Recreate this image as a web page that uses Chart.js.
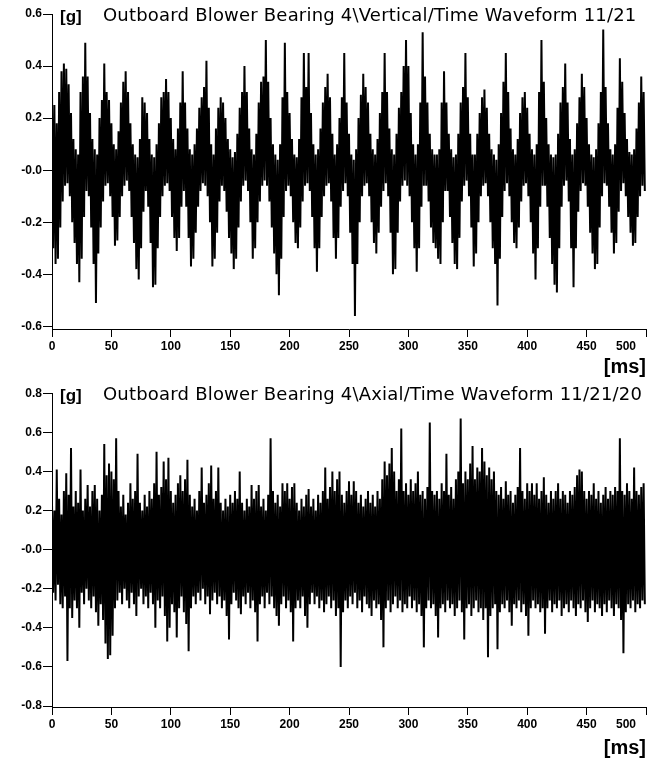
<!DOCTYPE html>
<html>
<head>
<meta charset="utf-8">
<script src="https://cdn.jsdelivr.net/npm/chart.js@4.4.0/dist/chart.umd.min.js"></script>
<style>
  body { margin: 0; background: #fff; }
  #wrap { position: relative; width: 659px; height: 761px; }
  canvas { position: absolute; left: 0; }
  #vert { top: 0; }
  #axial { top: 385px; }
</style>
</head>
<body>
<div id="wrap">
  <canvas id="vert" width="659" height="385"></canvas>
  <canvas id="axial" width="659" height="376"></canvas>
</div>
<script>
// time axis (ms)
const xTicks = [0, 50, 100, 150, 200, 250, 300, 350, 400, 450, 500];
const xLabels = ['0', '50', '100', '150', '200', '250', '300', '350', '400', '450', '500'];

const vertTitle = 'Outboard Blower Bearing 4\\Vertical/Time Waveform 11/21';
const vertYTicks = [-0.6, -0.4, -0.2, 0, 0.2, 0.4, 0.6];
const vertYLabels = ['-0.6', '-0.4', '-0.2', '-0.0', '0.2', '0.4', '0.6'];

const axialTitle = 'Outboard Blower Bearing 4\\Axial/Time Waveform 11/21/20';
const axialYTicks = [-0.8, -0.6, -0.4, -0.2, 0, 0.2, 0.4, 0.6, 0.8];
const axialYLabels = ['-0.8', '-0.6', '-0.4', '-0.2', '-0.0', '0.2', '0.4', '0.6', '0.8'];

// waveform read as max / min per 2 ms slot
const binMs = 2;

const vertHi = [
  0.32,0.25,0.18,0.30,0.38,0.41,0.39,0.33,0.22,0.12,
  0.08,0.06,0.30,0.36,0.49,0.36,0.22,0.12,0.08,0.06,
  0.20,0.27,0.41,0.30,0.27,0.18,0.10,0.08,0.15,0.26,
  0.34,0.38,0.30,0.18,0.10,0.06,0.05,0.12,0.28,0.26,
  0.22,0.12,0.06,0.05,0.10,0.18,0.28,0.30,0.35,0.30,
  0.20,0.12,0.08,0.16,0.26,0.38,0.26,0.16,0.08,0.06,
  0.10,0.16,0.24,0.28,0.32,0.42,0.24,0.10,0.06,0.16,
  0.24,0.28,0.26,0.20,0.12,0.08,0.05,0.07,0.14,0.24,
  0.30,0.40,0.30,0.16,0.08,0.06,0.14,0.26,0.34,0.36,
  0.50,0.34,0.20,0.10,0.06,0.04,0.10,0.28,0.49,0.30,
  0.22,0.12,0.06,0.05,0.12,0.28,0.45,0.32,0.45,0.22,
  0.10,0.06,0.08,0.16,0.26,0.32,0.37,0.28,0.14,0.06,
  0.10,0.20,0.28,0.45,0.26,0.14,0.06,0.04,0.08,0.20,
  0.29,0.37,0.32,0.26,0.14,0.08,0.06,0.12,0.22,0.30,
  0.45,0.30,0.16,0.08,0.06,0.14,0.24,0.30,0.40,0.50,
  0.40,0.22,0.10,0.06,0.10,0.26,0.53,0.36,0.26,0.14,
  0.08,0.06,0.06,0.08,0.26,0.38,0.26,0.14,0.08,0.05,
  0.06,0.14,0.26,0.32,0.45,0.28,0.14,0.06,0.06,0.14,
  0.22,0.28,0.31,0.24,0.14,0.08,0.06,0.04,0.10,0.22,
  0.34,0.45,0.30,0.16,0.08,0.06,0.12,0.22,0.28,0.30,
  0.24,0.14,0.08,0.06,0.10,0.30,0.50,0.34,0.20,0.10,
  0.06,0.05,0.06,0.14,0.26,0.32,0.41,0.26,0.12,0.06,
  0.08,0.18,0.28,0.37,0.32,0.20,0.10,0.06,0.05,0.08,
  0.18,0.30,0.54,0.32,0.18,0.08,0.06,0.10,0.24,0.43,
  0.34,0.22,0.12,0.07,0.06,0.08,0.16,0.26,0.36,0.30
];
const vertLo = [
  -0.30,-0.36,-0.34,-0.22,-0.12,-0.06,-0.05,-0.10,-0.20,-0.28,
  -0.36,-0.43,-0.34,-0.18,-0.08,-0.10,-0.22,-0.36,-0.51,-0.32,
  -0.22,-0.12,-0.06,-0.05,-0.10,-0.18,-0.29,-0.27,-0.18,-0.10,
  -0.06,-0.04,-0.08,-0.18,-0.28,-0.38,-0.42,-0.30,-0.16,-0.08,
  -0.14,-0.28,-0.45,-0.44,-0.30,-0.18,-0.10,-0.06,-0.05,-0.08,
  -0.18,-0.26,-0.31,-0.26,-0.14,-0.08,-0.14,-0.26,-0.37,-0.34,
  -0.24,-0.14,-0.08,-0.05,-0.06,-0.10,-0.20,-0.37,-0.34,-0.24,
  -0.12,-0.06,-0.08,-0.16,-0.26,-0.32,-0.38,-0.34,-0.22,-0.12,
  -0.06,-0.04,-0.08,-0.20,-0.34,-0.30,-0.20,-0.12,-0.06,-0.04,
  -0.06,-0.12,-0.22,-0.32,-0.40,-0.48,-0.34,-0.18,-0.08,-0.06,
  -0.10,-0.20,-0.28,-0.30,-0.22,-0.12,-0.06,-0.05,-0.08,-0.18,
  -0.30,-0.39,-0.30,-0.18,-0.10,-0.06,-0.05,-0.12,-0.26,-0.34,
  -0.26,-0.14,-0.08,-0.05,-0.10,-0.24,-0.36,-0.56,-0.36,-0.20,
  -0.10,-0.06,-0.05,-0.10,-0.20,-0.28,-0.32,-0.24,-0.14,-0.08,
  -0.05,-0.10,-0.24,-0.40,-0.38,-0.24,-0.12,-0.06,-0.04,-0.06,
  -0.10,-0.20,-0.30,-0.39,-0.30,-0.14,-0.06,-0.06,-0.12,-0.22,
  -0.28,-0.30,-0.34,-0.36,-0.20,-0.08,-0.08,-0.18,-0.28,-0.36,
  -0.38,-0.26,-0.12,-0.06,-0.04,-0.10,-0.22,-0.37,-0.32,-0.20,
  -0.10,-0.06,-0.05,-0.10,-0.20,-0.30,-0.36,-0.52,-0.34,-0.18,
  -0.08,-0.05,-0.10,-0.20,-0.28,-0.30,-0.22,-0.12,-0.06,-0.05,
  -0.10,-0.20,-0.32,-0.42,-0.30,-0.14,-0.06,-0.06,-0.14,-0.26,
  -0.36,-0.44,-0.47,-0.30,-0.14,-0.06,-0.04,-0.12,-0.30,-0.45,
  -0.30,-0.16,-0.08,-0.05,-0.06,-0.14,-0.24,-0.32,-0.38,-0.36,
  -0.22,-0.10,-0.05,-0.06,-0.14,-0.24,-0.32,-0.28,-0.16,-0.08,
  -0.05,-0.10,-0.18,-0.24,-0.29,-0.28,-0.18,-0.10,-0.06,-0.08
];

const axialHi = [
  0.24,0.20,0.41,0.26,0.18,0.30,0.39,0.28,0.52,0.22,
  0.30,0.24,0.41,0.20,0.26,0.33,0.22,0.30,0.33,0.26,
  0.20,0.28,0.54,0.38,0.44,0.40,0.36,0.57,0.30,0.22,
  0.28,0.18,0.24,0.34,0.26,0.30,0.49,0.24,0.20,0.28,
  0.22,0.30,0.26,0.34,0.50,0.28,0.32,0.45,0.36,0.47,
  0.30,0.24,0.28,0.34,0.38,0.30,0.36,0.46,0.28,0.22,
  0.26,0.20,0.30,0.42,0.24,0.28,0.34,0.43,0.26,0.30,
  0.42,0.24,0.20,0.26,0.22,0.28,0.24,0.30,0.26,0.40,
  0.24,0.20,0.26,0.22,0.33,0.26,0.30,0.33,0.22,0.26,
  0.20,0.28,0.57,0.30,0.24,0.28,0.22,0.34,0.30,0.34,
  0.26,0.32,0.34,0.24,0.20,0.26,0.22,0.28,0.31,0.22,
  0.26,0.20,0.28,0.24,0.30,0.42,0.26,0.32,0.40,0.30,
  0.36,0.40,0.28,0.24,0.30,0.35,0.28,0.35,0.30,0.24,
  0.28,0.22,0.26,0.30,0.24,0.28,0.22,0.30,0.26,0.36,
  0.45,0.38,0.44,0.52,0.40,0.30,0.36,0.62,0.30,0.34,
  0.28,0.36,0.30,0.34,0.40,0.28,0.30,0.26,0.32,0.65,
  0.30,0.28,0.30,0.26,0.34,0.30,0.49,0.28,0.32,0.26,
  0.36,0.40,0.67,0.34,0.40,0.36,0.44,0.53,0.36,0.42,
  0.40,0.52,0.45,0.38,0.42,0.36,0.40,0.30,0.28,0.32,
  0.26,0.35,0.28,0.30,0.24,0.28,0.32,0.52,0.30,0.26,
  0.34,0.30,0.34,0.28,0.34,0.26,0.30,0.37,0.28,0.24,
  0.30,0.26,0.30,0.34,0.26,0.30,0.28,0.24,0.30,0.28,
  0.32,0.38,0.41,0.40,0.30,0.26,0.30,0.28,0.34,0.26,
  0.30,0.24,0.28,0.32,0.26,0.30,0.28,0.32,0.30,0.57,
  0.30,0.28,0.34,0.30,0.26,0.42,0.30,0.28,0.32,0.34
];
const axialLo = [
  -0.22,-0.26,-0.18,-0.28,-0.30,-0.24,-0.57,-0.30,-0.35,-0.26,
  -0.30,-0.40,-0.22,-0.28,-0.20,-0.26,-0.30,-0.24,-0.32,-0.39,
  -0.28,-0.36,-0.48,-0.56,-0.54,-0.44,-0.30,-0.26,-0.22,-0.28,
  -0.20,-0.26,-0.30,-0.22,-0.28,-0.34,-0.24,-0.20,-0.28,-0.24,
  -0.30,-0.22,-0.28,-0.40,-0.26,-0.30,-0.24,-0.34,-0.47,-0.40,
  -0.28,-0.32,-0.45,-0.30,-0.24,-0.32,-0.38,-0.52,-0.30,-0.24,
  -0.28,-0.22,-0.26,-0.20,-0.28,-0.24,-0.33,-0.26,-0.22,-0.28,
  -0.24,-0.30,-0.26,-0.34,-0.46,-0.28,-0.22,-0.26,-0.30,-0.33,
  -0.24,-0.28,-0.22,-0.30,-0.26,-0.32,-0.47,-0.28,-0.24,-0.30,
  -0.22,-0.28,-0.24,-0.30,-0.34,-0.39,-0.28,-0.24,-0.30,-0.26,
  -0.32,-0.47,-0.30,-0.26,-0.30,-0.24,-0.34,-0.40,-0.28,-0.22,
  -0.28,-0.24,-0.30,-0.26,-0.32,-0.28,-0.24,-0.30,-0.26,-0.34,
  -0.30,-0.60,-0.32,-0.26,-0.30,-0.24,-0.28,-0.22,-0.30,-0.26,
  -0.32,-0.24,-0.28,-0.30,-0.34,-0.26,-0.30,-0.28,-0.36,-0.50,
  -0.30,-0.26,-0.32,-0.28,-0.24,-0.30,-0.26,-0.32,-0.28,-0.30,
  -0.24,-0.30,-0.26,-0.32,-0.28,-0.34,-0.50,-0.30,-0.26,-0.30,
  -0.28,-0.34,-0.45,-0.30,-0.28,-0.32,-0.26,-0.30,-0.28,-0.34,
  -0.30,-0.26,-0.32,-0.46,-0.30,-0.28,-0.34,-0.30,-0.26,-0.32,
  -0.30,-0.36,-0.30,-0.55,-0.34,-0.30,-0.28,-0.51,-0.32,-0.28,
  -0.30,-0.26,-0.32,-0.39,-0.28,-0.30,-0.26,-0.32,-0.28,-0.34,
  -0.44,-0.30,-0.26,-0.30,-0.28,-0.32,-0.30,-0.43,-0.30,-0.26,
  -0.32,-0.28,-0.30,-0.26,-0.34,-0.30,-0.28,-0.32,-0.26,-0.30,
  -0.34,-0.28,-0.30,-0.26,-0.32,-0.37,-0.30,-0.26,-0.32,-0.28,
  -0.30,-0.34,-0.28,-0.32,-0.26,-0.30,-0.34,-0.28,-0.30,-0.36,
  -0.53,-0.32,-0.28,-0.30,-0.26,-0.32,-0.28,-0.30,-0.26,-0.28
];

// zig-zag max/min so the trace fills like the sampled waveform
function toPoints(hi, lo) {
  const pts = [];
  for (let i = 0; i < hi.length; i++) {
    pts.push({ x: i * binMs, y: hi[i] });
    pts.push({ x: i * binMs + binMs / 2, y: lo[i] });
  }
  return pts;
}

const tickFont = { family: 'Liberation Sans', weight: 'bold', size: 12 };

function decorPlugin(title, msOffset) {
  return {
    id: 'decor',
    afterDraw(chart) {
      const ctx = chart.ctx;
      const area = chart.chartArea;
      const xs = chart.scales.x;
      ctx.save();
      ctx.fillStyle = '#000';

      // x tick labels, last one pulled in from the edge
      ctx.font = 'bold 12px "Liberation Sans"';
      ctx.textBaseline = 'middle';
      xTicks.forEach((v, i) => {
        const px = xs.getPixelForValue(v);
        if (i === xTicks.length - 1) {
          ctx.textAlign = 'right';
          ctx.fillText(xLabels[i], px - 10, area.bottom + 18);
        } else {
          ctx.textAlign = 'center';
          ctx.fillText(xLabels[i], px, area.bottom + 18);
        }
      });

      // unit on the time axis
      ctx.font = 'bold 20px "Liberation Sans"';
      ctx.textAlign = 'right';
      ctx.fillText('[ms]', area.right, area.bottom + msOffset);

      // header line
      ctx.textBaseline = 'alphabetic';
      ctx.textAlign = 'left';
      ctx.font = 'bold 17px "Liberation Sans"';
      ctx.fillText('[g]', 60, area.top + 8);
      ctx.font = '18px "DejaVu Sans"';
      ctx.letterSpacing = '0.2px';
      ctx.fillText(title, 103, area.top + 7);
      ctx.restore();
    }
  };
}

function makeChart(id, hi, lo, yTicks, yLabels, yMin, yMax, padTop, xHeight, title, msOffset) {
  return new Chart(document.getElementById(id), {
    type: 'line',
    data: {
      datasets: [{
        data: toPoints(hi, lo),
        borderColor: '#000',
        borderWidth: 2,
        pointRadius: 0,
        tension: 0,
        fill: false
      }]
    },
    options: {
      responsive: false,
      animation: false,
      devicePixelRatio: 1,
      parsing: false,
      layout: { padding: { top: padTop, right: 13, left: 0, bottom: 0 } },
      plugins: { legend: { display: false }, tooltip: { enabled: false } },
      scales: {
        x: {
          type: 'linear',
          min: 0,
          max: 500,
          afterBuildTicks: (s) => { s.ticks = xTicks.map(v => ({ value: v })); },
          afterFit: (s) => { s.height = xHeight; },
          ticks: { display: false },
          grid: { drawOnChartArea: false, drawTicks: true, tickLength: 8, color: '#000' },
          border: { display: true, color: '#000', width: 1 }
        },
        y: {
          type: 'linear',
          min: yMin,
          max: yMax,
          afterBuildTicks: (s) => { s.ticks = yTicks.map(v => ({ value: v })); },
          afterFit: (s) => { s.width = 52; },
          ticks: {
            color: '#000',
            font: tickFont,
            padding: 1,
            callback: (v, i) => yLabels[i]
          },
          grid: { drawOnChartArea: false, drawTicks: true, tickLength: 9, color: '#000' },
          border: { display: true, color: '#000', width: 1 }
        }
      }
    },
    plugins: [decorPlugin(title, msOffset)]
  });
}

makeChart('vert', vertHi, vertLo, vertYTicks, vertYLabels, -0.61, 0.6, 14, 56, vertTitle, 38);
makeChart('axial', axialHi, axialLo, axialYTicks, axialYLabels, -0.805, 0.8, 6, 54, axialTitle, 41);
</script>
</body>
</html>
